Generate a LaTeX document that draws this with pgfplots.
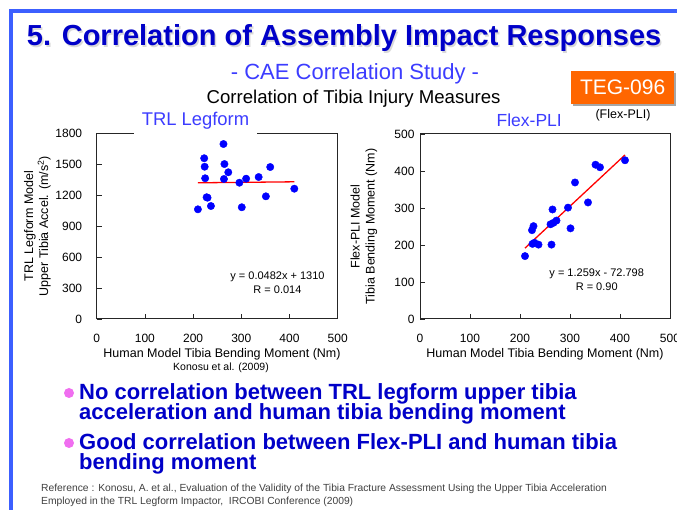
\documentclass[border=0pt]{standalone}
\usepackage{pgfplots}
\pgfplotsset{compat=1.18}
\usepackage{fontspec}
\setmainfont{Liberation Sans}
\definecolor{frameblue}{RGB}{60,95,255}
\definecolor{titleblue}{RGB}{0,0,200}
\definecolor{subblue}{RGB}{60,60,255}
\definecolor{tegorange}{RGB}{255,102,0}
\definecolor{bulletpink}{RGB}{240,110,240}
\newcommand{\fs}[1]{\fontsize{#1}{#1}\selectfont}

\pgfplotsset{
 myax/.style={
  scale only axis, xmin=0, xmax=500, xtick={0,100,...,500},
  tick align=inside, tick pos=left, major tick length=5pt,
  axis line style={black!85, line width=1pt},
  tick style={black!85, line width=0.8pt},
  /pgf/number format/assume math mode=true,
  /pgf/number format/1000 sep={},
  ticklabel style={font=\fs{12}},
  xticklabel style={yshift=-12pt},
  xlabel style={font=\fs{12.5}, at={(axis description cs:0.5,-0.207)}, anchor=base},
  ylabel style={font=\fontsize{12.5}{15}\selectfont, align=center, anchor=center},
 },
 dots/.style={only marks, mark=*, mark size=3.7pt, color=blue, mark options={fill=blue, draw=blue}},
 fitline/.style={red, line width=1.3pt, no marks},
}

\pgfplotstableread{
x y
210 1063
223 1558
224 1476
225 1364
228 1180
230 1176
237 1095
263 1696
265 1502
273 1422
264 1357
296 1321
301 1083
310 1360
336 1376
351 1189
360 1473
410 1263
}\trldata

\pgfplotstableread{
x y
210 170
224 240
227 251
225 203
229 206
237 201
263 201
265 296
261 256
267 260
273 266
296 301
301 245
310 369
336 315
351 417
360 410
410 429
}\flexdata

\begin{document}
\begin{tikzpicture}[x=1pt,y=1pt]
\path[use as bounding box, fill=white] (0,0) rectangle (677,510);
% frame
\draw[frameblue, line width=3.7pt] (11,0) -- (11,499) -- (690,499);
% title
\node[anchor=base west, font=\bfseries\fs{29}, text=black!15, inner sep=0] at (28.2,462.8) {5. Correlation of Assembly Impact Responses};
\node[anchor=base west, font=\bfseries\fs{29}, text=titleblue, inner sep=0] at (26.7,464.3) {5. Correlation of Assembly Impact Responses};
\node[anchor=base, font=\fs{22}, text=subblue, inner sep=0] at (355,430) {- CAE Correlation Study -};
\node[anchor=base, font=\fs{18.6}, inner sep=0] at (353.6,406) {Correlation of Tibia Injury Measures};
% TEG box
\fill[black!35] (573,403.7) rectangle (676.3,437);
\fill[tegorange] (571,405.7) rectangle (674.3,439);
\node[font=\fs{21}, text=white, inner sep=0] at (622.6,422.3) {TEG-096};
\node[anchor=base, font=\fs{12.5}, inner sep=0] at (623,391) {(Flex-PLI)};

% left axis
\begin{axis}[myax, at={(96.7pt,191pt)}, anchor=south west,
  width=241pt, height=185.7pt,
  ymin=0, ymax=1800, ytick={0,300,...,1800},
  yticklabel style={xshift=-11pt},
  xlabel={Human Model Tibia Bending Moment (Nm)},
  xlabel style={at={(axis description cs:0.52,-0.207)}},
  ylabel={TRL Legform Model\\Upper Tibia Accel. (m/s\textsuperscript{2})},
  ylabel style={at={(axis description cs:-0.246,0.5)}},
]
\addplot[dots] table[x=x,y=y] {\trldata};
\addplot[fitline] coordinates {(210,1320.1) (410,1329.8)};
\node[font=\fontsize{11}{14}\selectfont, align=center] at (axis cs:375,349) {y = 0.0482x + 1310\\R = 0.014};
\end{axis}
\node[fill=white, inner xsep=8pt, inner ysep=7pt, font=\fs{18.4}, text=subblue] at (195.5,389) {TRL Legform};

% right axis
\begin{axis}[myax, at={(420pt,191pt)}, anchor=south west,
  width=250pt, height=185pt,
  ymin=0, ymax=500, ytick={0,100,...,500},
  yticklabel style={xshift=-2pt},
  xlabel={Human Model Tibia Bending Moment (Nm)},
  ylabel={Flex-PLI Model\\Tibia Bending Moment (Nm)},
  ylabel style={at={(axis description cs:-0.224,0.5)}},
]
\addplot[dots] table[x=x,y=y] {\flexdata};
\addplot[fitline] coordinates {(210,191.6) (410,443.4)};
\node[font=\fontsize{11}{13.5}\selectfont, align=center] at (axis cs:353.4,106.8) {y = 1.259x - 72.798\\R = 0.90};
\end{axis}
\node[anchor=base, font=\fs{17.5}, text=subblue, inner sep=0] at (529.2,383.3) {Flex-PLI};

\node[anchor=base, font=\fs{10.5}, inner sep=0] at (221,139) {Konosu et al. (2009)};

% bullets
\fill[bulletpink] (69,117) circle (5);
\fill[bulletpink] (69,67) circle (5);
\begin{scope}[every node/.style={anchor=base west, font=\bfseries\fs{22}, text=titleblue, inner sep=0}]
\node at (79,110) {No correlation between TRL legform upper tibia};
\node at (79,90) {acceleration and human tibia bending moment};
\node at (79,60) {Good correlation between Flex-PLI and human tibia};
\node at (79,40) {bending moment};
\end{scope}
\begin{scope}[every node/.style={anchor=base west, font=\fs{10.3}, text=black!75, inner sep=0}]
\node at (41,18.3) {Reference : Konosu, A. et al., Evaluation of the Validity of the Tibia Fracture Assessment Using the Upper Tibia Acceleration};
\node at (41,5) {Employed in the TRL Legform Impactor,\ \ IRCOBI Conference (2009)};
\end{scope}
\end{tikzpicture}
\end{document}
